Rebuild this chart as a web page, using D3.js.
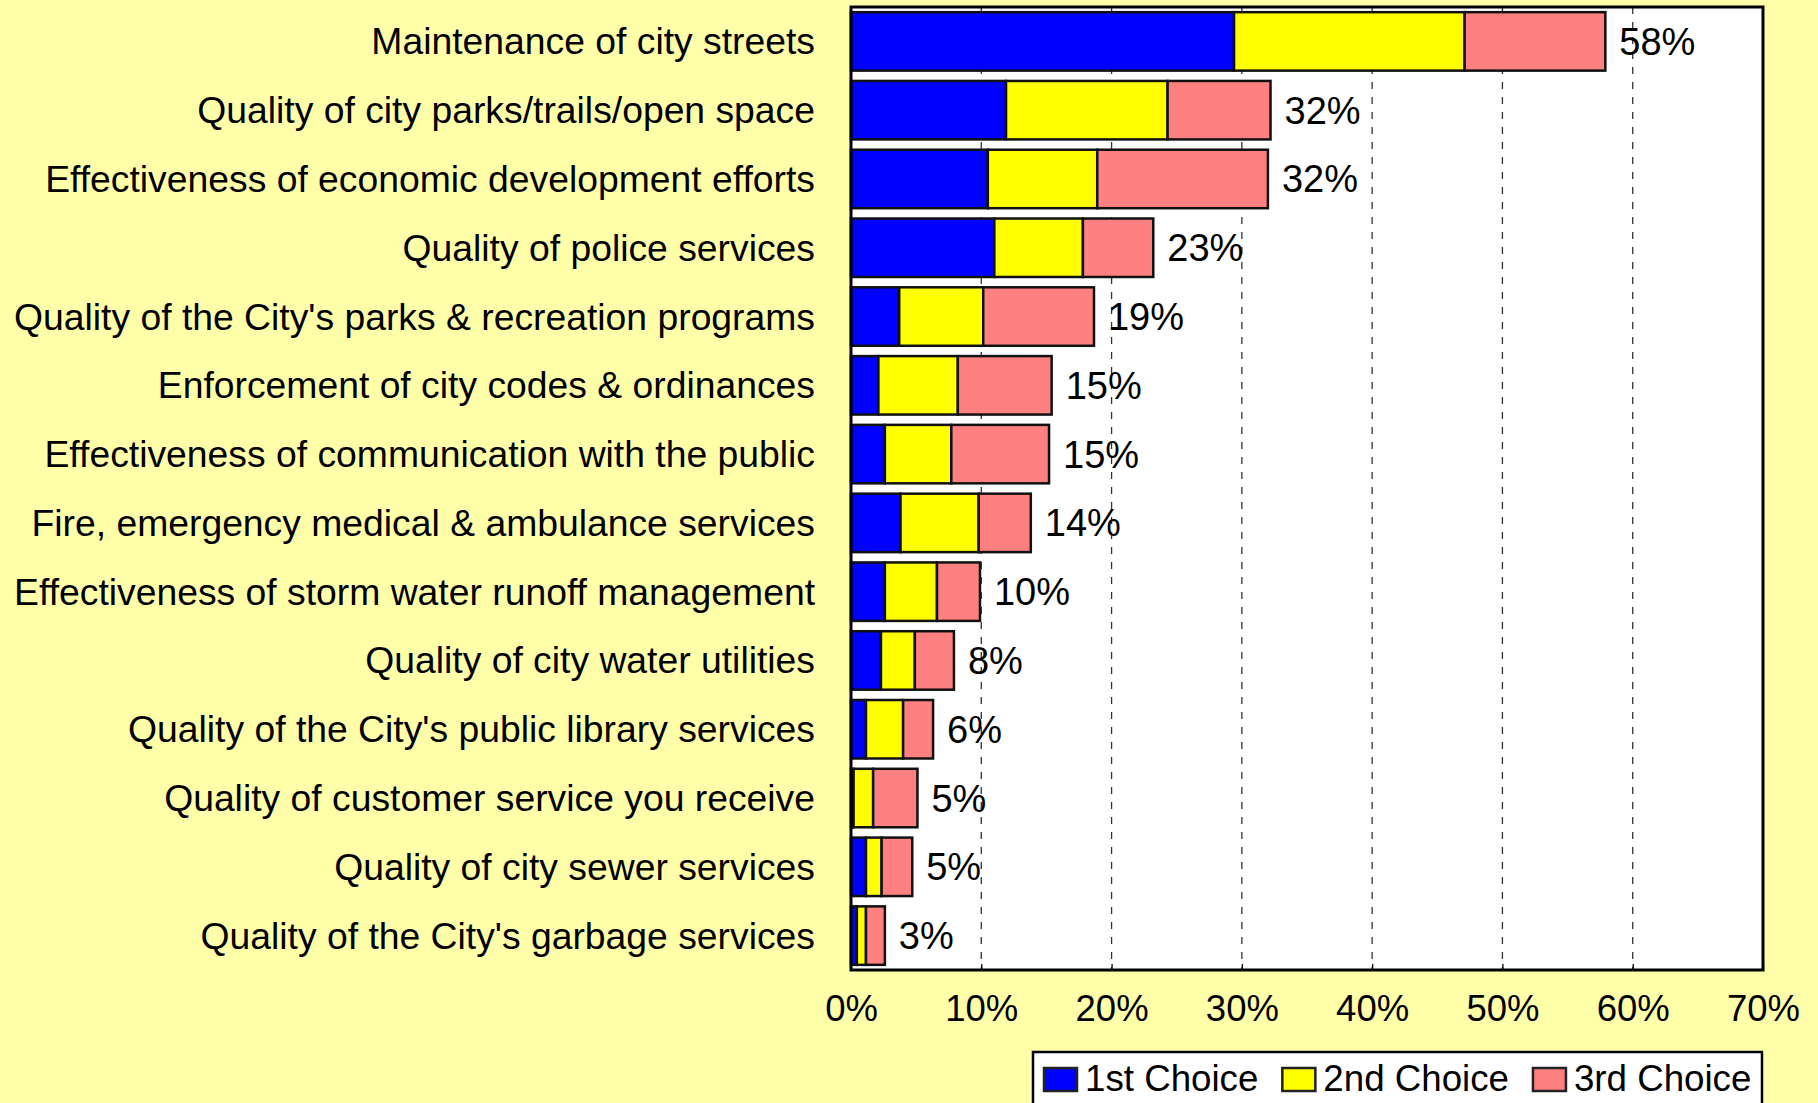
<!DOCTYPE html>
<html>
<head>
<meta charset="utf-8">
<script src="https://cdn.jsdelivr.net/npm/d3@7"></script>
<style>
  html, body { margin: 0; padding: 0; background: #FFFFAA; }
  svg { display: block; font-family: "Liberation Sans", Arial, sans-serif; }
</style>
</head>
<body>
<svg id="chart" width="1818" height="1103"></svg>
<script>
const categories = [
  "Maintenance of city streets",
  "Quality of city parks/trails/open space",
  "Effectiveness of economic development efforts",
  "Quality of police services",
  "Quality of the City's parks & recreation programs",
  "Enforcement of city codes & ordinances",
  "Effectiveness of communication with the public",
  "Fire, emergency medical & ambulance services",
  "Effectiveness of storm water runoff management",
  "Quality of city water utilities",
  "Quality of the City's public library services",
  "Quality of customer service you receive",
  "Quality of city sewer services",
  "Quality of the City's garbage services"
];
const firstChoice  = [29.4, 11.9, 10.5, 11.0, 3.7, 2.1, 2.6, 3.8, 2.6, 2.3, 1.15, 0.2, 1.15, 0.45];
const secondChoice = [17.7, 12.4, 8.4, 6.8, 6.45, 6.1, 5.1, 6.0, 4.0, 2.6, 2.85, 1.5, 1.2, 0.7];
const thirdChoice  = [10.8, 7.9, 13.1, 5.4, 8.5, 7.2, 7.5, 4.0, 3.3, 3.0, 2.3, 3.4, 2.35, 1.45];
const totalLabels  = ["58%", "32%", "32%", "23%", "19%", "15%", "15%", "14%", "10%", "8%", "6%", "5%", "5%", "3%"];
const seriesNames  = ["1st Choice", "2nd Choice", "3rd Choice"];
const xTicks       = [0, 10, 20, 30, 40, 50, 60, 70];

const colors = ["#0000FF", "#FFFF00", "#FF8080"];

const svg = d3.select("#chart");
const plot = { left: 851, right: 1763, top: 7, bottom: 970 };

const x = d3.scaleLinear().domain([0, 70]).range([plot.left, plot.right]);
const y = d3.scaleBand().domain(categories).range([plot.top, plot.bottom])
  .paddingInner(0.15).paddingOuter(0.075);

const rows = categories.map((c, i) => ({
  cat: c, "1st Choice": firstChoice[i], "2nd Choice": secondChoice[i], "3rd Choice": thirdChoice[i], label: totalLabels[i]
}));
const stacked = d3.stack().keys(seriesNames)(rows);

// background
svg.append("rect").attr("width", 1818).attr("height", 1103).attr("fill", "#FFFFAA");

// plot area
svg.append("rect")
  .attr("x", plot.left).attr("y", plot.top)
  .attr("width", plot.right - plot.left).attr("height", plot.bottom - plot.top)
  .attr("fill", "#FFFFFF");

// gridlines
svg.append("g").selectAll("line")
  .data(xTicks.filter(t => t > 0 && t < 70))
  .join("line")
  .attr("x1", d => x(d)).attr("x2", d => x(d))
  .attr("y1", plot.top).attr("y2", plot.bottom)
  .attr("stroke", "#333").attr("stroke-width", 1.3)
  .attr("stroke-dasharray", "7,8");

// bars
svg.append("g").selectAll("g")
  .data(stacked)
  .join("g")
  .attr("fill", (d, i) => colors[i])
  .selectAll("rect")
  .data(d => d)
  .join("rect")
  .attr("x", d => x(d[0]))
  .attr("y", d => y(d.data.cat))
  .attr("width", d => Math.max(0, x(d[1]) - x(d[0])))
  .attr("height", y.bandwidth())
  .attr("stroke", "#111")
  .attr("stroke-width", 2.5);

// value labels
const last = stacked[stacked.length - 1];
svg.append("g").selectAll("text")
  .data(last)
  .join("text")
  .attr("x", d => x(d[1]) + 14)
  .attr("y", d => y(d.data.cat) + y.bandwidth() / 2 + 13.5)
  .attr("font-size", 38)
  .attr("fill", "#000")
  .text(d => d.data.label);

// category labels
svg.append("g").selectAll("text")
  .data(categories)
  .join("text")
  .attr("x", 815)
  .attr("y", d => y(d) + y.bandwidth() / 2 + 13)
  .attr("text-anchor", "end")
  .attr("font-size", 37.3)
  .attr("fill", "#000")
  .text(d => d);

// x axis
const xAxis = d3.axisBottom(x).tickValues(xTicks).tickFormat(d => d + "%")
  .tickSizeInner(-6).tickSizeOuter(0).tickPadding(25);
const gx = svg.append("g").attr("transform", `translate(0,${plot.bottom})`).call(xAxis);
gx.select(".domain").remove();
gx.selectAll(".tick line").attr("stroke", "#000").attr("stroke-width", 1.3);
gx.selectAll(".tick text").attr("font-size", 36.5).attr("fill", "#000")
  .attr("font-family", "'Liberation Sans', Arial, sans-serif");

// plot frame
svg.append("rect")
  .attr("x", plot.left).attr("y", plot.top)
  .attr("width", plot.right - plot.left).attr("height", plot.bottom - plot.top)
  .attr("fill", "none").attr("stroke", "#000").attr("stroke-width", 3);

// legend
const lg = svg.append("g");
lg.append("rect")
  .attr("x", 1033).attr("y", 1052).attr("width", 729).attr("height", 80)
  .attr("fill", "#FFFFFF").attr("stroke", "#000").attr("stroke-width", 2.5);
let lx = 1044;
seriesNames.forEach((name, i) => {
  lg.append("rect")
    .attr("x", lx).attr("y", 1068).attr("width", 33).attr("height", 23)
    .attr("fill", colors[i]).attr("stroke", "#222").attr("stroke-width", 2.5);
  const t = lg.append("text")
    .attr("x", lx + 41).attr("y", 1091)
    .attr("font-size", 36.7).attr("fill", "#000")
    .text(name);
  lx = lx + 41 + t.node().getComputedTextLength() + 24;
});
</script>
</body>
</html>
